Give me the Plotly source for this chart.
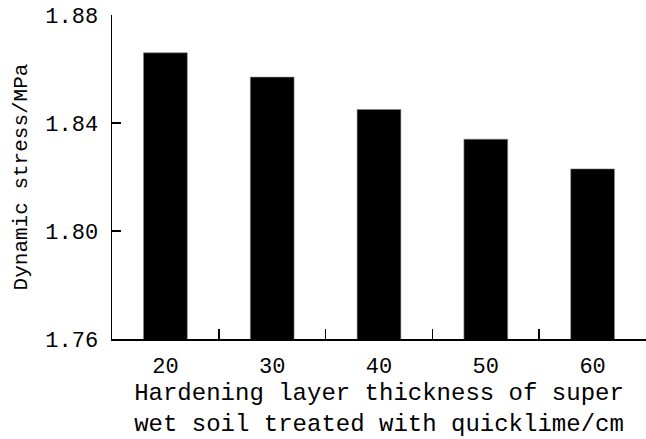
import plotly.graph_objects as go

categories = ["20", "30", "40", "50", "60"]
dynamic_stress = [1.866, 1.857, 1.845, 1.834, 1.823]
y_ticks = [1.76, 1.80, 1.84, 1.88]
y_tick_labels = ["1.76", "1.80", "1.84", "1.88"]

FONT = "Liberation Mono, Courier New, monospace"

fig = go.Figure()
fig.add_trace(go.Bar(
    x=categories,
    y=dynamic_stress,
    marker=dict(color="black", line=dict(color="#888888", width=0.6)),
    width=0.41,
))

fig.update_layout(
    width=646, height=439,
    margin=dict(l=112, r=0, t=15, b=100),
    paper_bgcolor="white", plot_bgcolor="white",
    showlegend=False,
    font=dict(family=FONT, color="black"),
    xaxis=dict(
        type="category",
        range=[-0.5, 4.5],
        automargin=False,
        showline=True, linecolor="black", linewidth=1.5,
        ticks="inside", tickson="boundaries", ticklen=10, tickwidth=1.5, tickcolor="black",
        tickfont=dict(family=FONT, size=22, color="black"),
        ticklabelstandoff=6,
        showgrid=False, zeroline=False,
        title=dict(
            text="Hardening layer thickness of super<br>wet soil treated with quicklime/cm",
            font=dict(family=FONT, size=24, color="black"),
            standoff=4,
        ),
    ),
    yaxis=dict(
        range=[1.76, 1.88],
        automargin=False,
        tickmode="array", tickvals=y_ticks, ticktext=y_tick_labels,
        showline=True, linecolor="black", linewidth=1.5,
        ticks="inside", ticklen=9, tickwidth=1.5, tickcolor="black",
        tickfont=dict(family=FONT, size=22, color="black"),
        ticklabelstandoff=8,
        showgrid=False, zeroline=False,
        title=dict(text="Dynamic stress/MPa", font=dict(family=FONT, size=21, color="black"), standoff=12),
    ),
)

fig.write_html(
    "out.html",
    config={"displayModeBar": False, "staticPlot": True},
    post_script="document.body.style.margin='0';document.body.style.overflow='hidden';",
)
